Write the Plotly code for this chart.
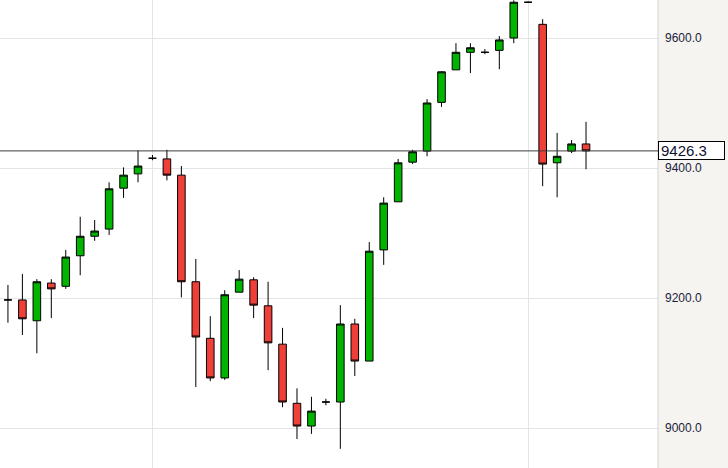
import plotly.graph_objects as go

# OHLC data (41 sessions)
open_ = [9197, 9197, 9165, 9223, 9218, 9265, 9295, 9306, 9369, 9391,
         9415, 9414, 9389, 9225, 9138, 9077, 9209, 9228, 9188, 9129,
         9038, 9003, 9040, 9040, 9160, 9103, 9274, 9348, 9409, 9426,
         9501, 9551, 9578, 9578, 9581, 9600, 9655, 9621, 9408, 9426, 9437]
high = [9220, 9237, 9229, 9229, 9274, 9325, 9320, 9378, 9401, 9427,
        9420, 9428, 9403, 9260, 9172, 9212, 9243, 9232, 9225, 9154,
        9061, 9048, 9045, 9189, 9168, 9286, 9355, 9414, 9428, 9506,
        9549, 9592, 9592, 9583, 9603, 9658, 9656, 9629, 9454, 9443, 9471]
low = [9162, 9143, 9115, 9169, 9214, 9235, 9288, 9297, 9354, 9378,
       9412, 9381, 9201, 9063, 9072, 9074, 9209, 9169, 9089, 9032,
       8983, 8991, 9035, 8968, 9080, 9103, 9251, 9348, 9406, 9418,
       9494, 9551, 9546, 9575, 9552, 9592, 9654, 9372, 9355, 9423, 9398]
close = [9197, 9168, 9225, 9214, 9263, 9295, 9303, 9368, 9389, 9403,
         9415, 9389, 9225, 9140, 9077, 9205, 9229, 9189, 9131, 9040,
         9003, 9026, 9040, 9160, 9103, 9272, 9346, 9408, 9425, 9500,
         9548, 9578, 9585, 9578, 9597, 9655, 9655, 9406, 9418, 9437, 9426.3]
idx = list(range(len(open_)))

last_price = 9426.3
y_ticks = [9000, 9200, 9400, 9600]
y_tick_text = ["9000.0", "9200.0", "9400.0", "9600.0"]
x_grid = [10, 36]

fig = go.Figure(go.Candlestick(
    x=idx, open=open_, high=high, low=low, close=close,
    increasing=dict(line=dict(color="black", width=1), fillcolor="#00b400"),
    decreasing=dict(line=dict(color="black", width=1), fillcolor="#ee4038"),
    whiskerwidth=0,
    hoverinfo="skip",
))

fig.update_layout(
    width=728, height=468,
    margin=dict(l=0, r=70, t=0, b=0),
    paper_bgcolor="#f5f4f0",
    plot_bgcolor="white",
    showlegend=False,
    font=dict(family="Liberation Sans, Arial, sans-serif", size=12, color="#1c1c3c"),
    boxgap=0.25,
    xaxis=dict(
        range=[-0.55, 44.98], rangeslider=dict(visible=False),
        tickvals=x_grid, showticklabels=False, ticks="",
        showgrid=True, gridcolor="#e4e4e4", gridwidth=1,
        zeroline=False, showline=False, fixedrange=True,
    ),
    yaxis=dict(
        side="right", range=[8938.46, 9658.46],
        tickvals=y_ticks, ticktext=y_tick_text, ticks="",
        ticklabelstandoff=6,
        showgrid=True, gridcolor="#e4e4e4", gridwidth=1,
        zeroline=False, showline=False, fixedrange=True,
        tickfont=dict(size=12, color="#1c1c3c"),
    ),
    shapes=[
        dict(type="line", xref="paper", yref="paper", x0=1, x1=1, y0=0, y1=1,
             line=dict(color="#d4d4d4", width=1)),
        dict(type="line", xref="paper", yref="y", x0=0, x1=1,
             y0=last_price, y1=last_price, line=dict(color="#3c3c3c", width=1)),
    ],
    annotations=[
        dict(xref="paper", yref="y", x=1, y=last_price, xanchor="left", yanchor="middle",
             text=f"{last_price:.1f}", showarrow=False, align="left",
             font=dict(size=15, color="#101030"),
             bgcolor="white", bordercolor="black", borderwidth=1, borderpad=2,
             width=61, height=13),
    ],
)

fig.write_html(
    "out.html",
    config={"displayModeBar": False},
    post_script="document.body.style.margin='0';",
)
